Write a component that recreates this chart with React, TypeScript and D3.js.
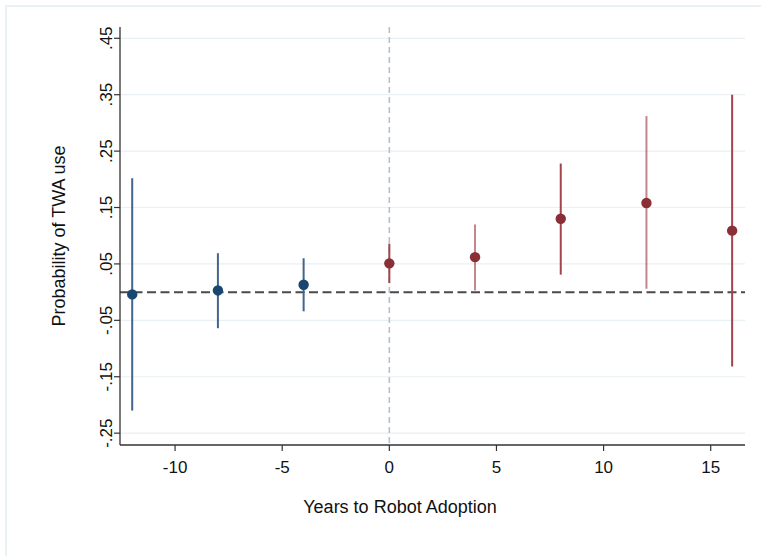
import * as d3 from 'd3';

const periods = [-12, -8, -4, 0, 4, 8, 12, 16];
const estimates = [-0.004, 0.003, 0.013, 0.051, 0.062, 0.13, 0.158, 0.109];
const lower = [-0.21, -0.064, -0.034, 0.016, 0.003, 0.031, 0.006, -0.132];
const upper = [0.202, 0.069, 0.06, 0.086, 0.12, 0.228, 0.312, 0.35];
const xTicks = [-10, -5, 0, 5, 10, 15];
const yTicks = [-0.25, -0.15, -0.05, 0.05, 0.15, 0.25, 0.35, 0.45];

const width = 761;
const height = 556;
const left = 120;
const right = 745;
const top = 27;
const bottom = 445;

const font = '"Liberation Sans", Arial, Helvetica, sans-serif';

// Stata style labels: .45, -.05
const fmtY = (v: number) => (v < 0 ? '-' : '') + Math.abs(v).toFixed(2).replace(/^0\./, '.');

export default function App() {
  const x = d3.scaleLinear().domain([-12.57, 16.6]).range([left, right]);
  const y = d3.scaleLinear().domain([-0.271, 0.47]).range([bottom, top]);

  const navyPt = '#1a476f';
  const navyLine = '#43658b';
  const maroonPt = '#8b2f36';
  const maroonLine = '#a2444b';

  return (
    <svg
      width={width}
      height={height}
      style={{ position: 'absolute', left: 0, top: 0, background: '#fff' }}
    >
      {/* outer frame */}
      <rect x={6} y={6} width={width + 20} height={height + 20} fill="none" stroke="#e9f1f4" strokeWidth={2} />

      {/* grid */}
      {yTicks.map(t => (
        <line key={'g' + t} x1={left} x2={right} y1={y(t)} y2={y(t)} stroke="#e8f0f3" strokeWidth={1.2} />
      ))}

      {/* vertical reference at adoption */}
      <line
        x1={x(0)} x2={x(0)} y1={top} y2={bottom}
        stroke="#b3c0d2" strokeWidth={1.6} strokeDasharray="6,4"
      />

      {/* horizontal zero line */}
      <line
        x1={left} x2={right} y1={y(0)} y2={y(0)}
        stroke="#4a4a4a" strokeWidth={2} strokeDasharray="9,4.5"
      />

      {/* confidence intervals */}
      {periods.map((p, i) => (
        <line
          key={'ci' + p}
          x1={x(p)} x2={x(p)} y1={y(lower[i])} y2={y(upper[i])}
          stroke={p < 0 ? navyLine : maroonLine}
          strokeOpacity={p < 0 ? 1 : i % 2 === 0 ? 0.65 : 1}
          strokeWidth={2}
        />
      ))}

      {/* point estimates */}
      {periods.map((p, i) => (
        <circle key={'pt' + p} cx={x(p)} cy={y(estimates[i])} r={5.2} fill={p < 0 ? navyPt : maroonPt} />
      ))}

      {/* axes */}
      <line x1={left} x2={left} y1={top} y2={bottom} stroke="#333" strokeWidth={1.3} />
      <line x1={left} x2={right} y1={bottom} y2={bottom} stroke="#333" strokeWidth={1.3} />

      {yTicks.map(t => (
        <g key={'yt' + t}>
          <line x1={left - 6} x2={left} y1={y(t)} y2={y(t)} stroke="#333" strokeWidth={1.2} />
          <text
            transform={`translate(112,${y(t)}) rotate(-90)`}
            textAnchor="middle"
            fontFamily={font}
            fontSize={17}
            fill="#111"
          >
            {fmtY(t)}
          </text>
        </g>
      ))}

      {xTicks.map(t => (
        <g key={'xt' + t}>
          <line x1={x(t)} x2={x(t)} y1={bottom} y2={bottom + 6} stroke="#333" strokeWidth={1.2} />
          <text x={x(t)} y={473} textAnchor="middle" fontFamily={font} fontSize={17} fill="#111">
            {t}
          </text>
        </g>
      ))}

      <text
        transform={`translate(65,${(top + bottom) / 2}) rotate(-90)`}
        textAnchor="middle"
        fontFamily={font}
        fontSize={18}
        fill="#111"
      >
        Probability of TWA use
      </text>
      <text x={400} y={513} textAnchor="middle" fontFamily={font} fontSize={18} fill="#111">
        Years to Robot Adoption
      </text>
    </svg>
  );
}
